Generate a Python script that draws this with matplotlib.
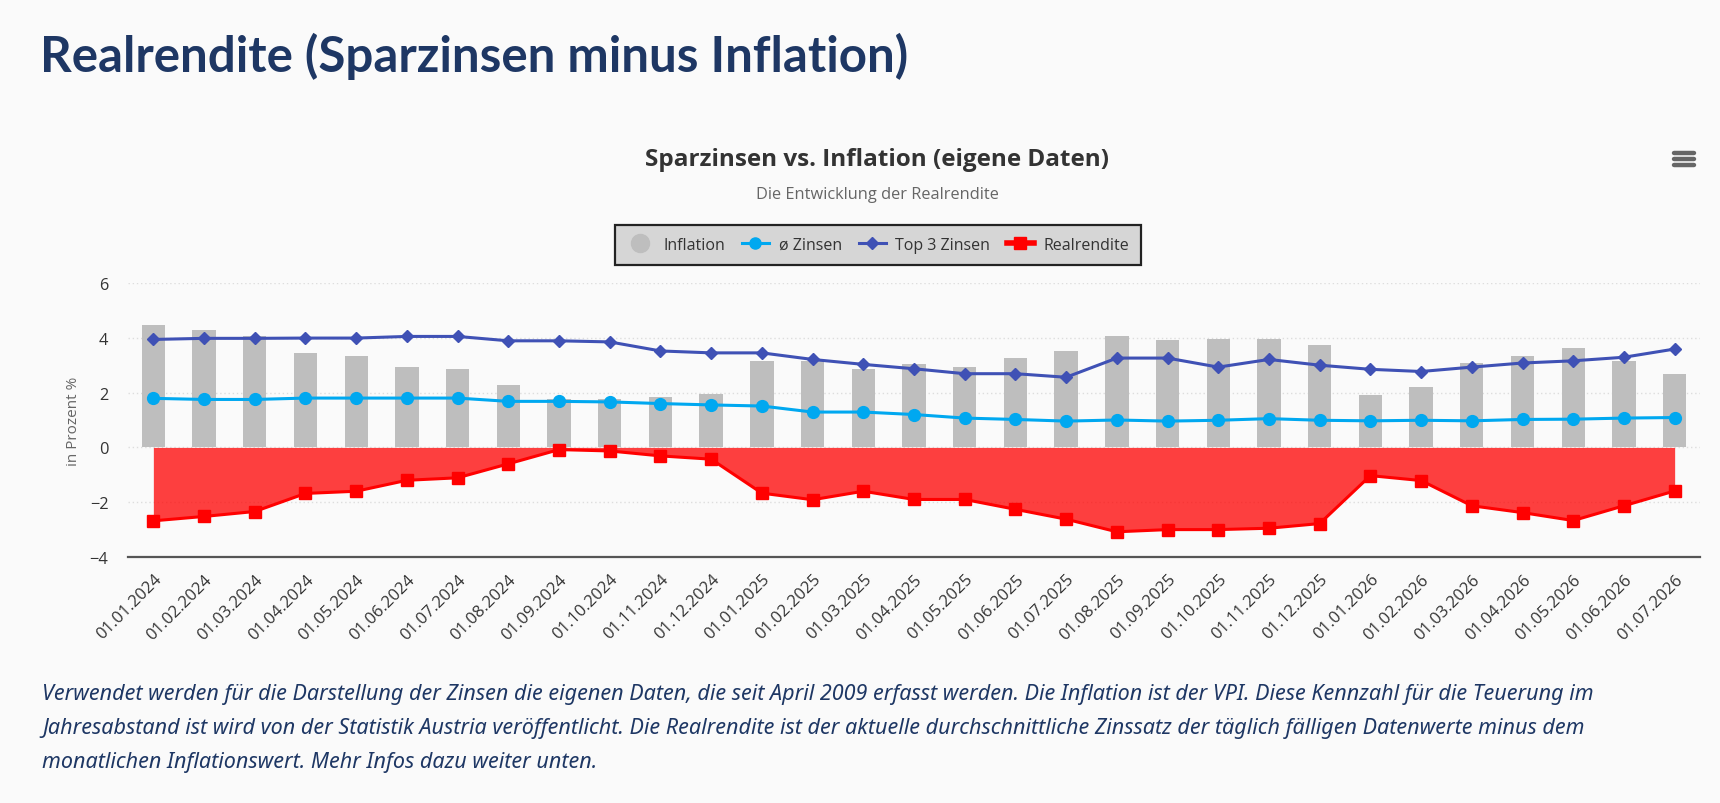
import matplotlib
matplotlib.use('Agg')
import matplotlib.pyplot as plt
from matplotlib.lines import Line2D
import numpy as np

# Monatswerte
dates = ['01.01.2024', '01.02.2024', '01.03.2024', '01.04.2024', '01.05.2024', '01.06.2024',
         '01.07.2024', '01.08.2024', '01.09.2024', '01.10.2024', '01.11.2024', '01.12.2024',
         '01.01.2025', '01.02.2025', '01.03.2025', '01.04.2025', '01.05.2025', '01.06.2025',
         '01.07.2025', '01.08.2025', '01.09.2025', '01.10.2025', '01.11.2025', '01.12.2025',
         '01.01.2026', '01.02.2026', '01.03.2026', '01.04.2026', '01.05.2026', '01.06.2026',
         '01.07.2026']
inflation = [4.46, 4.27, 4.07, 3.43, 3.34, 2.94, 2.85, 2.27, 1.76, 1.78, 1.84,
             1.94, 3.14, 3.14, 2.86, 3.05, 2.94, 3.25, 3.53, 4.07, 3.93,
             3.94, 3.94, 3.73, 1.93, 2.19, 3.07, 3.35, 3.64, 3.14, 2.67]
avg_rate = [1.79, 1.75, 1.75, 1.80, 1.80, 1.80, 1.80, 1.68, 1.68, 1.66, 1.60,
            1.55, 1.51, 1.29, 1.29, 1.20, 1.07, 1.02, 0.96, 1.00, 0.96,
            0.99, 1.05, 0.99, 0.97, 0.99, 0.97, 1.02, 1.03, 1.07, 1.09]
top3_rate = [3.94, 3.98, 3.98, 3.99, 3.99, 4.05, 4.05, 3.89, 3.89, 3.85, 3.52,
             3.45, 3.45, 3.21, 3.03, 2.87, 2.69, 2.69, 2.56, 3.26, 3.26,
             2.93, 3.21, 3.00, 2.85, 2.77, 2.93, 3.08, 3.16, 3.29, 3.59]
real_yield = [-2.68, -2.52, -2.34, -1.68, -1.60, -1.20, -1.11, -0.60, -0.08, -0.13, -0.31,
              -0.43, -1.67, -1.91, -1.60, -1.90, -1.90, -2.26, -2.62, -3.08, -3.00,
              -3.00, -2.95, -2.78, -1.03, -1.21, -2.13, -2.38, -2.67, -2.13, -1.59]

BG = '#fafafa'
NAVY = '#1e3764'

fig = plt.figure(figsize=(17.2, 8.04), dpi=100)
fig.patch.set_facecolor(BG)

# page heading
fig.text(40 / 1720, 1 - 56 / 804, 'Realrendite (Sparzinsen minus Inflation)',
         family='Lato', weight='bold', fontsize=35.5, color=NAVY, va='center', ha='left')

# chart title + subtitle
fig.text(877 / 1720, 1 - 160 / 804, 'Sparzinsen vs. Inflation (eigene Daten)',
         family='Open Sans', weight='bold', fontsize=17.5, color='#333333', ha='center', va='center')
fig.text(877 / 1720, 1 - 195 / 804, 'Die Entwicklung der Realrendite',
         family='Open Sans', fontsize=11.8, color='#666666', ha='center', va='center')

# hamburger menu
for dy in (-6, 0, 6):
    fig.add_artist(Line2D([1674 / 1720, 1694 / 1720], [1 - (160 + dy) / 804] * 2,
                          color='#666666', lw=3.2, solid_capstyle='round'))

ax = fig.add_axes([128 / 1720, 1 - 558 / 804, 1572 / 1720, 274 / 804])
ax.set_facecolor(BG)
x = np.arange(len(dates))

ax.bar(x, inflation, width=0.46, color='#bebebe', zorder=2)
ax.fill_between(x, real_yield, 0, color='red', alpha=0.75, lw=0, zorder=2)
ax.plot(x, real_yield, color='#ff0000', lw=2.2, marker='s', markersize=8.5, zorder=4)
ax.plot(x, avg_rate, color='#00a8f0', lw=2.2, marker='o', markersize=8.5, zorder=5)
ax.plot(x, top3_rate, color='#3f51b5', lw=2.2, marker='D', markersize=6, zorder=5)

ax.set_xlim(-0.5, len(dates) - 0.5)
ax.set_ylim(-4, 6)
ax.set_yticks([-4, -2, 0, 2, 4, 6])
ax.set_xticks(x)
ax.set_xticklabels(dates, rotation=45, ha='right', rotation_mode='anchor',
                   fontsize=12, color='#333333', family='Open Sans')
for lab in ax.get_yticklabels():
    lab.set_family('Open Sans')
ax.tick_params(axis='y', length=0, labelsize=11.8, labelcolor='#333333', pad=14)
ax.tick_params(axis='x', length=0, pad=10)
ax.grid(axis='y', color='#dddddd', linestyle=(0, (1, 2)), lw=1, zorder=0)
for side in ('top', 'right', 'left'):
    ax.spines[side].set_visible(False)
ax.spines['bottom'].set_color('#555555')
ax.spines['bottom'].set_linewidth(1.6)
ax.set_ylabel('in Prozent %', family='Open Sans', fontsize=11, color='#666666', labelpad=6)

handles = [
    Line2D([], [], ls='none', marker='o', markersize=13, color='#bebebe'),
    Line2D([], [], color='#00a8f0', lw=2.2, marker='o', markersize=8),
    Line2D([], [], color='#3f51b5', lw=2.2, marker='D', markersize=6),
    Line2D([], [], color='#ff0000', lw=4, marker='s', markersize=9),
]
leg = fig.legend(handles, ['Inflation', 'ø Zinsen', 'Top 3 Zinsen', 'Realrendite'],
                 loc='center', bbox_to_anchor=(878 / 1720, 1 - 246 / 804), ncol=4,
                 prop={'family': 'Open Sans', 'size': 11.5}, labelcolor='#333333',
                 fancybox=False, framealpha=1, facecolor='#d6d6d6', edgecolor='#222222',
                 handlelength=1.7, handletextpad=0.6, columnspacing=1.05, borderpad=0.75)
leg.get_frame().set_linewidth(1.6)

footer = ['Verwendet werden für die Darstellung der Zinsen die eigenen Daten, die seit April 2009 erfasst werden. '
          'Die Inflation ist der VPI. Diese Kennzahl für die Teuerung im',
          'Jahresabstand ist wird von der Statistik Austria veröffentlicht. Die Realrendite ist der aktuelle '
          'durchschnittliche Zinssatz der täglich fälligen Datenwerte minus dem',
          'monatlichen Inflationswert. Mehr Infos dazu weiter unten.']
for i, line in enumerate(footer):
    fig.text(42 / 1720, 1 - (695 + 34 * i) / 804, line, family='Noto Sans', style='italic',
             fontsize=15.5, color=NAVY, ha='left', va='center')

fig.savefig('out.png', dpi=100, facecolor=BG)
